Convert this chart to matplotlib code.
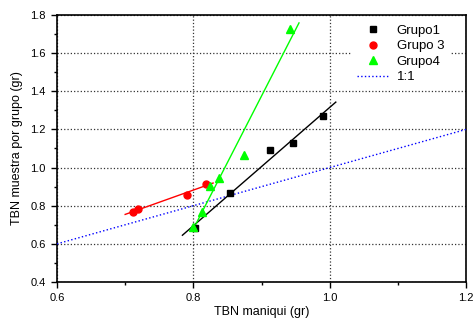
import numpy as np
import matplotlib
matplotlib.use("Agg")
import matplotlib.pyplot as plt
from matplotlib.ticker import MultipleLocator, FormatStrFormatter

plt.rcParams['font.family'] = ['Liberation Sans', 'DejaVu Sans']

# datos
g1_x = [0.802, 0.854, 0.913, 0.946, 0.990]
g1_y = [0.685, 0.865, 1.092, 1.127, 1.272]
g1_rango = [0.784, 1.009]

g3_x = [0.7115, 0.719, 0.790, 0.819]
g3_y = [0.767, 0.784, 0.858, 0.914]
g3_rango = [0.700, 0.829]

g4_x = [0.800, 0.813, 0.824, 0.838, 0.874, 0.942]
g4_y = [0.690, 0.767, 0.905, 0.944, 1.064, 1.725]
g4_rango = [0.800, 0.955]

linea_11 = [0.6, 1.2]


def ajuste(ax, x, y, rango, color):
    # recta de regresion lineal
    m, b = np.polyfit(x, y, 1)
    xs = np.array(rango)
    ax.plot(xs, m * xs + b, color=color, linewidth=1, zorder=3)


fig = plt.figure(figsize=(4.73, 3.21), dpi=100)
ax = fig.add_axes([57 / 473, 1 - 282 / 321, 409 / 473, 267 / 321])

ax.plot(g1_x, g1_y, 's', color='black', markersize=5, label='Grupo1', zorder=4)
ax.plot(g3_x, g3_y, 'o', color='#ff0000', markersize=5, label='Grupo 3', zorder=4)
ax.plot(g4_x, g4_y, '^', color='#00ff00', markersize=6, label='Grupo4', zorder=4)
ax.plot(linea_11, linea_11, ':', color='#0000ff', linewidth=1, label='1:1', zorder=3)

ajuste(ax, g1_x, g1_y, g1_rango, 'black')
ajuste(ax, g3_x, g3_y, g3_rango, '#ff0000')
ajuste(ax, g4_x, g4_y, g4_rango, '#00ff00')

ax.set_xlim(0.6, 1.2)
ax.set_ylim(0.4, 1.8)
ax.xaxis.set_major_locator(MultipleLocator(0.2))
ax.xaxis.set_minor_locator(MultipleLocator(0.1))
ax.yaxis.set_major_locator(MultipleLocator(0.2))
ax.yaxis.set_minor_locator(MultipleLocator(0.1))
ax.xaxis.set_major_formatter(FormatStrFormatter('%.1f'))
ax.yaxis.set_major_formatter(FormatStrFormatter('%.1f'))
ax.tick_params(which='major', direction='out', length=4.5, width=1, labelsize=8, top=False, right=False)
ax.tick_params(which='minor', direction='out', length=2.5, width=1, top=False, right=False)
ax.grid(True, which='major', linestyle=':', color='#333333', linewidth=0.9, zorder=0)
ax.set_axisbelow(True)
for s in ax.spines.values():
    s.set_linewidth(1.2)

ax.set_xlabel('TBN maniqui (gr)', fontsize=9, labelpad=2)
ax.set_ylabel('TBN muestra por grupo (gr)', fontsize=9, labelpad=5)

leg = ax.legend(loc='upper left', bbox_to_anchor=((352 - 57) / 409, 0.984), fontsize=9.5,
                frameon=True, fancybox=False, edgecolor='none', facecolor='white', framealpha=1,
                handlelength=2.4, handletextpad=0.6, labelspacing=0.25, borderaxespad=0, borderpad=0.4)
leg.set_zorder(5)

plt.savefig("out.png", dpi=100)
plt.close()
